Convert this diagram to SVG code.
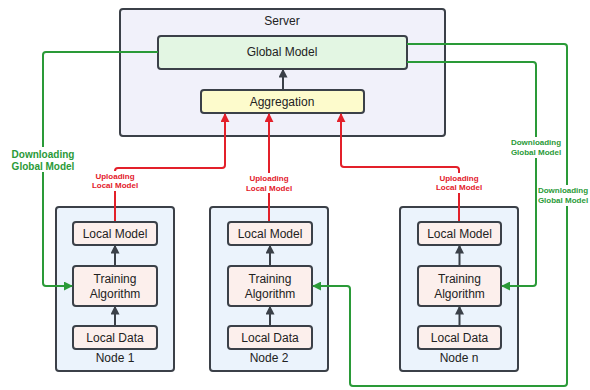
<svg xmlns="http://www.w3.org/2000/svg" width="590" height="390" viewBox="0 0 590 390">
<defs>
<style>
.box{stroke:#3b4048;stroke-width:2}
.t{font-family:"Liberation Sans",Arial,sans-serif;font-size:12px;fill:#222;text-anchor:middle}
.up{font-family:"Liberation Sans",Arial,sans-serif;font-size:8px;font-weight:bold;fill:#e3202a;text-anchor:middle}
.dn{font-family:"Liberation Sans",Arial,sans-serif;font-size:8px;font-weight:bold;fill:#2a9a38;text-anchor:middle}
.dk{fill:none;stroke:#3b4048;stroke-width:2}
.rd{fill:none;stroke:#e3202a;stroke-width:2}
.gr{fill:none;stroke:#2a9a38;stroke-width:2}
</style>
<marker id="ad" viewBox="0 0 10 10" refX="9" refY="5" markerUnits="userSpaceOnUse" markerWidth="9" markerHeight="9" orient="auto"><path d="M0,0 L10,5 L0,10 z" fill="#3b4048"/></marker>
<marker id="ar" viewBox="0 0 10 10" refX="9" refY="5" markerUnits="userSpaceOnUse" markerWidth="9" markerHeight="9" orient="auto"><path d="M0,0 L10,5 L0,10 z" fill="#e3202a"/></marker>
<marker id="ag" viewBox="0 0 10 10" refX="9" refY="5" markerUnits="userSpaceOnUse" markerWidth="9" markerHeight="9" orient="auto"><path d="M0,0 L10,5 L0,10 z" fill="#2a9a38"/></marker>
</defs>
<rect width="590" height="390" fill="#fff"/>

<g id="server">
<rect class="box" x="120" y="9" width="325" height="127" rx="3" fill="#f1f1fa"/>
<text class="t" x="282" y="25">Server</text>
</g>
<g id="global-model">
<rect class="box" x="158" y="36" width="249" height="33" rx="3" fill="#e3f6e3"/>
<text class="t" x="282" y="56">Global Model</text>
</g>
<g id="aggregation">
<rect class="box" x="201" y="90" width="163" height="23" rx="3" fill="#fdfbcc"/>
<text class="t" x="282" y="106">Aggregation</text>
</g>

<g id="node1">
<rect class="box" x="56" y="207" width="118" height="164" rx="3" fill="#ebf3fc"/>
<rect class="box" x="73" y="222" width="84" height="23" rx="3" fill="#fcefec"/>
<text class="t" x="115" y="238">Local Model</text>
<rect class="box" x="73" y="266" width="84" height="40" rx="3" fill="#fcefec"/>
<text class="t" x="115" y="283">Training</text>
<text class="t" x="115" y="298">Algorithm</text>
<rect class="box" x="73" y="326" width="84" height="23" rx="3" fill="#fcefec"/>
<text class="t" x="115" y="342">Local Data</text>
<text class="t" x="115" y="362">Node 1</text>
</g>
<g id="node2">
<rect class="box" x="210" y="207" width="118" height="164" rx="3" fill="#ebf3fc"/>
<rect class="box" x="228" y="222" width="84" height="23" rx="3" fill="#fcefec"/>
<text class="t" x="270" y="238">Local Model</text>
<rect class="box" x="228" y="266" width="84" height="40" rx="3" fill="#fcefec"/>
<text class="t" x="270" y="283">Training</text>
<text class="t" x="270" y="298">Algorithm</text>
<rect class="box" x="228" y="326" width="84" height="23" rx="3" fill="#fcefec"/>
<text class="t" x="270" y="342">Local Data</text>
<text class="t" x="269" y="362">Node 2</text>
</g>
<g id="noden">
<rect class="box" x="400" y="207" width="118" height="164" rx="3" fill="#ebf3fc"/>
<rect class="box" x="418" y="222" width="83" height="23" rx="3" fill="#fcefec"/>
<text class="t" x="459.5" y="238">Local Model</text>
<rect class="box" x="418" y="266" width="83" height="40" rx="3" fill="#fcefec"/>
<text class="t" x="459.5" y="283">Training</text>
<text class="t" x="459.5" y="298">Algorithm</text>
<rect class="box" x="418" y="326" width="83" height="23" rx="3" fill="#fcefec"/>
<text class="t" x="459.5" y="342">Local Data</text>
<text class="t" x="459" y="362">Node n</text>
</g>

<g id="connectors">
<path class="dk" d="M283,90 V69.5" marker-end="url(#ad)"/>
<path class="dk" d="M115,325 V306.5" marker-end="url(#ad)"/>
<path class="dk" d="M115,265 V245.5" marker-end="url(#ad)"/>
<path class="dk" d="M270,325 V306.5" marker-end="url(#ad)"/>
<path class="dk" d="M270,265 V245.5" marker-end="url(#ad)"/>
<path class="dk" d="M459.5,325 V306.5" marker-end="url(#ad)"/>
<path class="dk" d="M459.5,265 V245.5" marker-end="url(#ad)"/>

<path class="rd" d="M115,221 V171 Q115,168 118,168 H222 Q225,168 225,165 V114" marker-end="url(#ar)"/>
<path class="rd" d="M269,221 V114" marker-end="url(#ar)"/>
<path class="rd" d="M459,221 V170 Q459,167 456,167 H344 Q341,167 341,164 V114" marker-end="url(#ar)"/>

<path class="gr" d="M158,52 H46 Q43,52 43,55 V283 Q43,286 46,286 H72" marker-end="url(#ag)"/>
<path class="gr" d="M407,44 H564 Q567,44 567,47 V383 Q567,386 564,386 H353 Q350,386 350,383 V289 Q350,286 347,286 H313" marker-end="url(#ag)"/>
<path class="gr" d="M407,62 H533 Q536,62 536,65 V283 Q536,286 533,286 H502" marker-end="url(#ag)"/>

<rect x="86" y="171" width="58" height="20" fill="#fff"/>
<text class="up" x="115" y="179">Uploading</text>
<text class="up" x="115" y="188">Local Model</text>
<rect x="240" y="173" width="58" height="20" fill="#fff"/>
<text class="up" x="269" y="181">Uploading</text>
<text class="up" x="269" y="190.5">Local Model</text>
<rect x="430" y="173" width="58" height="20" fill="#fff"/>
<text class="up" x="459" y="181">Uploading</text>
<text class="up" x="459" y="190">Local Model</text>

<rect x="10" y="147" width="66" height="25" fill="#fff"/>
<text class="dn" x="43" y="158" style="font-size:10px">Downloading</text>
<text class="dn" x="43" y="170" style="font-size:10px">Global Model</text>
<rect x="509" y="137" width="54" height="21" fill="#fff"/>
<text class="dn" x="536" y="145">Downloading</text>
<text class="dn" x="536" y="155">Global Model</text>
<rect x="537" y="185" width="53" height="21" fill="#fff"/>
<text class="dn" x="563" y="193">Downloading</text>
<text class="dn" x="563" y="203">Global Model</text>
</g>
</svg>
